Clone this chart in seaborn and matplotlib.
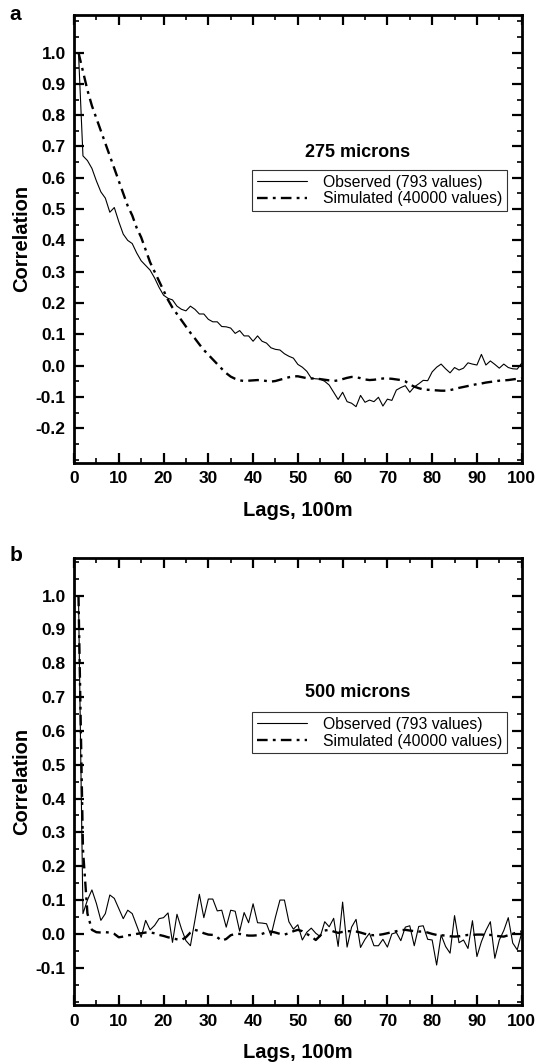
import numpy as np
import pandas as pd
import matplotlib
matplotlib.use("Agg")
import matplotlib.pyplot as plt
from matplotlib.ticker import MultipleLocator, FormatStrFormatter
import seaborn as sns

# ---------------- data ----------------
lags = list(range(1, 101))

obs_275 = [1.00, 0.67, 0.655, 0.63, 0.59, 0.555, 0.535, 0.49, 0.505, 0.46,
           0.42, 0.40, 0.39, 0.36, 0.335, 0.32, 0.305, 0.28, 0.25, 0.225,
           0.215, 0.21, 0.19, 0.18, 0.175, 0.19, 0.18, 0.165, 0.165, 0.148,
           0.14, 0.14, 0.125, 0.124, 0.12, 0.103, 0.112, 0.095, 0.095, 0.078,
           0.095, 0.078, 0.072, 0.057, 0.052, 0.05, 0.038, 0.03, 0.024, 0.004,
           -0.005, -0.018, -0.04, -0.042, -0.043, -0.05, -0.062, -0.085, -0.108, -0.085,
           -0.115, -0.12, -0.131, -0.095, -0.117, -0.11, -0.115, -0.101, -0.129, -0.107,
           -0.111, -0.078, -0.07, -0.064, -0.085, -0.068, -0.058, -0.047, -0.048, -0.02,
           -0.005, 0.005, -0.01, -0.023, -0.006, -0.014, -0.008, 0.009, 0.005, 0.002,
           0.036, 0.002, 0.015, 0.004, -0.008, 0.005, -0.006, -0.01, -0.011, 0.008]

sim_275 = [1.00, 0.94, 0.88, 0.83, 0.79, 0.75, 0.71, 0.67, 0.63, 0.59,
           0.55, 0.51, 0.48, 0.44, 0.41, 0.37, 0.33, 0.30, 0.27, 0.24,
           0.21, 0.185, 0.165, 0.145, 0.125, 0.105, 0.087, 0.068, 0.05, 0.035,
           0.02, 0.005, -0.01, -0.024, -0.035, -0.042, -0.047, -0.049, -0.048, -0.047,
           -0.046, -0.047, -0.049, -0.051, -0.049, -0.045, -0.041, -0.037, -0.034, -0.034,
           -0.037, -0.040, -0.041, -0.041, -0.043, -0.045, -0.047, -0.049, -0.047, -0.043,
           -0.039, -0.036, -0.037, -0.040, -0.044, -0.046, -0.045, -0.043, -0.041, -0.041,
           -0.042, -0.044, -0.046, -0.05, -0.06, -0.067, -0.072, -0.076, -0.077, -0.078,
           -0.079, -0.080, -0.080, -0.078, -0.075, -0.071, -0.068, -0.065, -0.062, -0.059,
           -0.057, -0.054, -0.052, -0.050, -0.048, -0.047, -0.046, -0.044, -0.042, -0.040]

obs_500 = [1.00, 0.06, 0.10, 0.13, 0.09, 0.04, 0.06, 0.115, 0.105, 0.075,
           0.045, 0.07, 0.06, 0.025, -0.01, 0.04, 0.012, 0.025, 0.045, 0.048,
           0.062, -0.025, 0.058, 0.015, -0.02, -0.035, 0.04, 0.117, 0.048, 0.103,
           0.103, 0.068, 0.07, 0.02, 0.07, 0.067, 0.008, 0.063, 0.033, 0.089,
           0.033, 0.032, 0.03, -0.005, 0.05, 0.10, 0.10, 0.036, 0.014, 0.027,
           -0.018, 0.005, 0.017, 0.002, -0.008, 0.036, 0.021, 0.046, -0.037, 0.094,
           -0.039, 0.02, 0.043, -0.04, -0.016, 0.002, -0.035, -0.035, -0.016, -0.039,
           0.0, 0.004, -0.02, 0.02, 0.024, -0.035, 0.022, 0.024, -0.016, -0.018,
           -0.092, -0.003, -0.037, -0.057, 0.054, -0.026, -0.018, -0.043, 0.039, -0.067,
           -0.023, 0.01, 0.036, -0.072, -0.018, 0.01, 0.048, -0.027, -0.047, 0.003]

sim_500 = [1.00, 0.25, 0.06, 0.012, 0.005, 0.004, 0.005, 0.004, 0.0, -0.01,
           -0.008, -0.004, -0.003, 0.0, 0.002, 0.004, 0.004, 0.002, -0.003, -0.006,
           -0.01, -0.013, -0.016, -0.018, -0.01, 0.004, 0.012, 0.008, 0.002, -0.002,
           -0.003, -0.01, -0.02, -0.015, -0.004, 0.0, 0.0, -0.003, -0.005, -0.005,
           -0.004, 0.0, 0.005, 0.007, 0.004, 0.0, -0.002, 0.002, 0.008, 0.012,
           0.008, 0.0, -0.008, -0.018, -0.005, 0.01, 0.012, 0.007, 0.003, 0.006,
           0.008, 0.008, 0.007, 0.004, 0.0, -0.003, -0.004, -0.003, -0.001, 0.002,
           0.005, 0.008, 0.011, 0.012, 0.01, 0.008, 0.007, 0.007, 0.004, 0.0,
           -0.003, -0.004, -0.005, -0.007, -0.008, -0.007, -0.005, -0.003, -0.003, -0.002,
           -0.002, -0.003, -0.003, -0.005, -0.007, -0.008, -0.004, 0.0, 0.005, 0.007]

panel_letters = ["a", "b"]
panel_titles = ["275 microns", "500 microns"]
legend_labels = ["Observed (793 values)", "Simulated (40000 values)"]
x_label = "Lags, 100m"
y_label = "Correlation"

# ---------------- style ----------------
sns.set_theme(style="ticks")
plt.rcParams["font.family"] = ["Liberation Sans", "DejaVu Sans"]
plt.rcParams["axes.unicode_minus"] = False
for k in ["text.color", "axes.labelcolor", "xtick.color", "ytick.color",
          "axes.edgecolor"]:
    plt.rcParams[k] = "black"

fig = plt.figure(figsize=(5.39, 10.62), dpi=100)
ax_a = fig.add_axes([0.1373, 0.5643, 0.8306, 0.4216])
ax_b = fig.add_axes([0.1373, 0.0534, 0.8306, 0.4215])

panels = [
    (ax_a, obs_275, sim_275, (-0.31, 1.12), -0.2, 0.692, 0.654),
    (ax_b, obs_500, sim_500, (-0.211, 1.112), -0.1, 0.698, 0.655),
]

dashdot = (0, (4.5, 2.2, 1.2, 2.2))

for i, (ax, obs, sim, ylim, ymin_tick, title_y, leg_y) in enumerate(panels):
    df = pd.DataFrame({"lag": lags, "obs": obs, "sim": sim})
    sns.lineplot(data=df, x="lag", y="obs", ax=ax, color="black", lw=0.8,
                 label=legend_labels[0])
    sns.lineplot(data=df, x="lag", y="sim", ax=ax, color="black", lw=1.7,
                 linestyle=dashdot, label=legend_labels[1])
    ax.set_xlim(0, 100)
    ax.set_ylim(*ylim)
    ax.set_yticks(np.round(np.arange(ymin_tick, 1.0001, 0.1), 1))
    ax.yaxis.set_major_formatter(FormatStrFormatter("%.1f"))
    ax.yaxis.set_minor_locator(MultipleLocator(0.05))
    ax.set_xticks(np.arange(0, 101, 10))
    ax.xaxis.set_minor_locator(MultipleLocator(5))
    ax.tick_params(which="both", direction="in", top=True, right=True,
                   colors="black")
    ax.tick_params(which="major", length=7, width=1.6, pad=6)
    ax.tick_params(which="minor", length=3.5, width=1.2)
    for lab in ax.get_xticklabels() + ax.get_yticklabels():
        lab.set_fontweight("bold")
        lab.set_fontsize(12.5)
    for sp in ax.spines.values():
        sp.set_visible(True)
        sp.set_linewidth(2.0)
        sp.set_color("black")
    ax.set_xlabel(x_label, fontsize=14.5, fontweight="bold", labelpad=10.5)
    ax.set_ylabel(y_label, fontsize=14.5, fontweight="bold", labelpad=3.5)
    ax.grid(False)

    leg = ax.legend(loc="upper right", bbox_to_anchor=(0.967, leg_y),
                    fontsize=11.3, frameon=True, fancybox=False,
                    handlelength=3.2, handletextpad=1.0, borderpad=0.3,
                    labelspacing=0.12, borderaxespad=0)
    leg.get_frame().set_edgecolor("black")
    leg.get_frame().set_linewidth(0.8)
    for t in leg.get_texts():
        t.set_color("black")
    ax.text(0.634, title_y, panel_titles[i], transform=ax.transAxes,
            ha="center", va="center", fontsize=13, fontweight="bold")

fig.text(0.018, 0.986, panel_letters[0], fontsize=15, fontweight="bold",
         ha="left", va="center")
fig.text(0.018, 0.477, panel_letters[1], fontsize=15, fontweight="bold",
         ha="left", va="center")

fig.savefig("out.png", dpi=100)
